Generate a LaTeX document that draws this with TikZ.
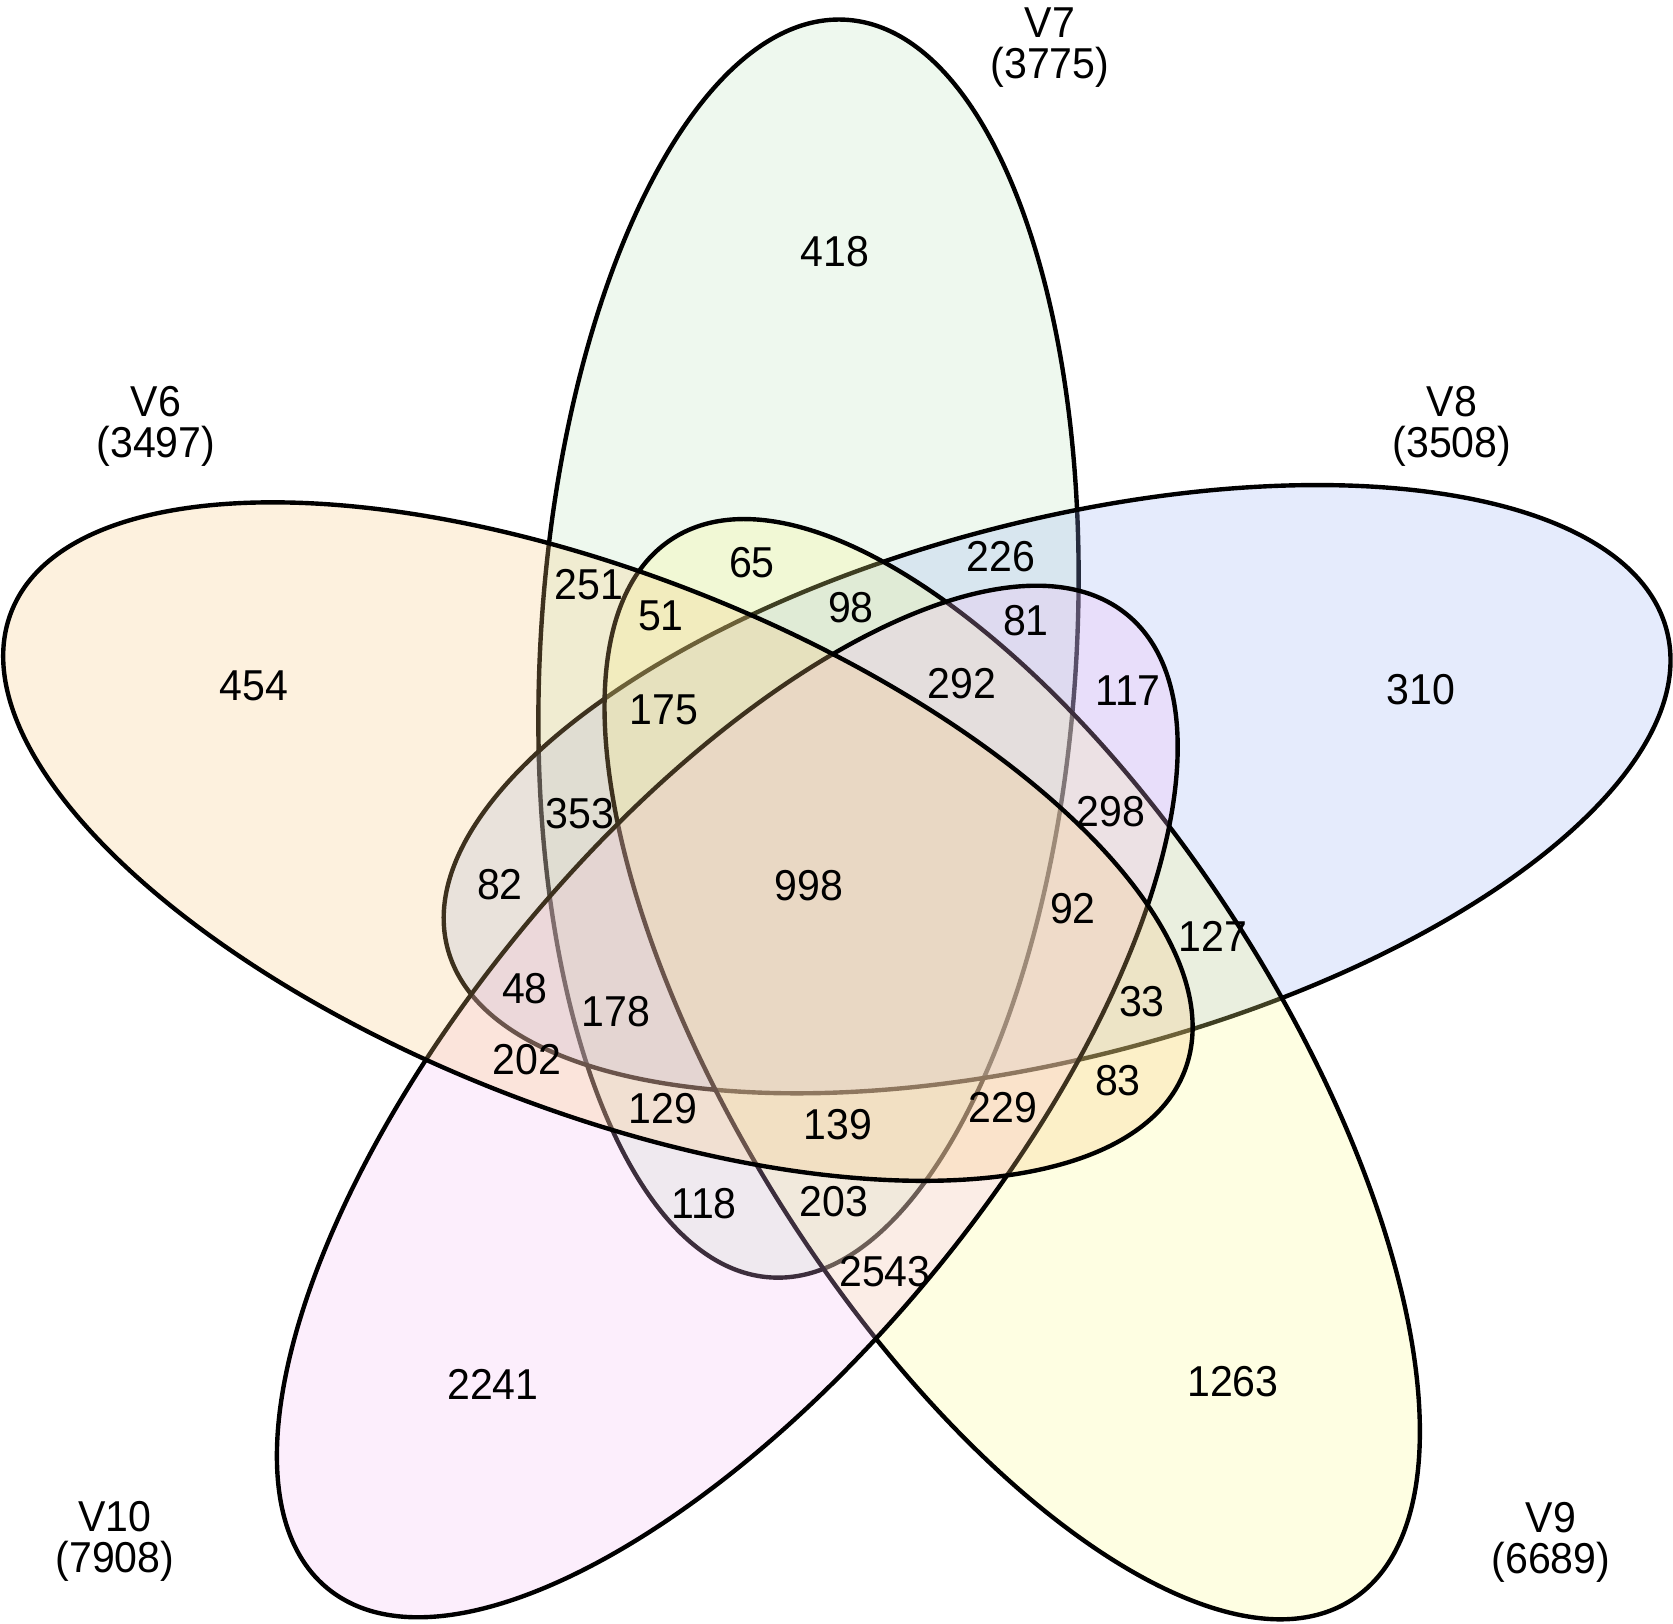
\documentclass[tikz,border=0pt]{standalone}
\usepackage{fontspec}
\setmainfont{Liberation Sans}[FakeStretch=0.95]
\usepackage{xcolor}
\usepackage{tikz}

\definecolor{colVsix}{RGB}{247,199,123}
\definecolor{colVseven}{RGB}{187,227,187}
\definecolor{colVeight}{RGB}{151,175,243}
\definecolor{colVnine}{RGB}{251,251,139}
\definecolor{colVten}{RGB}{243,187,243}

\begin{document}
\begin{tikzpicture}[
    setline/.style={line width=1.25pt, fill opacity=0.25},
    num/.style={inner sep=0pt, font=\fontsize{12.3}{11.7}\selectfont},
    cat/.style={num, align=center}]
\useasboundingbox (0,0) rectangle (16.73,16.24);

% the five sets, later fills tint the earlier lines
\foreach \cx/\cy/\ang/\col in {8.085/9.754/86.6/colVseven, 10.571/8.348/14.6/colVeight,
    10.122/5.548/302.6/colVnine, 7.273/5.225/230.6/colVten, 5.979/7.824/158.6/colVsix}
    \draw[setline, fill=\col, rotate around={\ang:(\cx,\cy)}] (\cx,\cy) ellipse (6.30 and 2.68);

% set names
\node[cat] (labV7) at (10.50,15.76) {V7\\(3775)};
\node[cat] (labV6) at (1.56,11.98) {V6\\(3497)};
\node[cat] (labV8) at (14.52,11.98) {V8\\(3508)};
\node[cat] (labV9) at (15.51,0.82) {V9\\(6689)};
\node[cat] (labV10) at (1.15,0.83) {V10\\(7908)};

% region counts
\node[num] (r418) at (8.35,13.72) {418};
\node[num] (r454) at (2.54,9.38) {454};
\node[num] (r310) at (14.21,9.34) {310};
\node[num] (r1263) at (12.33,2.42) {1263};
\node[num] (r2241) at (4.93,2.40) {2241};
\node[num] (r251) at (5.89,10.39) {251};
\node[num] (r65) at (7.52,10.61) {65};
\node[num] (r226) at (10.01,10.67) {226};
\node[num] (r51) at (6.61,10.08) {51};
\node[num] (r98) at (8.51,10.16) {98};
\node[num] (r81) at (10.26,10.03) {81};
\node[num] (r175) at (6.64,9.14) {175};
\node[num] (r292) at (9.62,9.40) {292};
\node[num] (r117) at (11.28,9.33) {117};
\node[num] (r353) at (5.80,8.10) {353};
\node[num] (r298) at (11.11,8.12) {298};
\node[num] (r82) at (5.00,7.39) {82};
\node[num] (r998) at (8.09,7.38) {998};
\node[num] (r92) at (10.73,7.15) {92};
\node[num] (r127) at (12.13,6.88) {127};
\node[num] (r48) at (5.25,6.35) {48};
\node[num] (r178) at (6.16,6.12) {178};
\node[num] (r33) at (11.42,6.22) {33};
\node[num] (r202) at (5.27,5.64) {202};
\node[num] (r83) at (11.18,5.43) {83};
\node[num] (r129) at (6.63,5.15) {129};
\node[num] (r139) at (8.38,4.99) {139};
\node[num] (r229) at (10.03,5.16) {229};
\node[num] (r118) at (7.04,4.20) {118};
\node[num] (r203) at (8.34,4.22) {203};
\node[num] (r2543) at (8.85,3.52) {2543};
\end{tikzpicture}
\end{document}
